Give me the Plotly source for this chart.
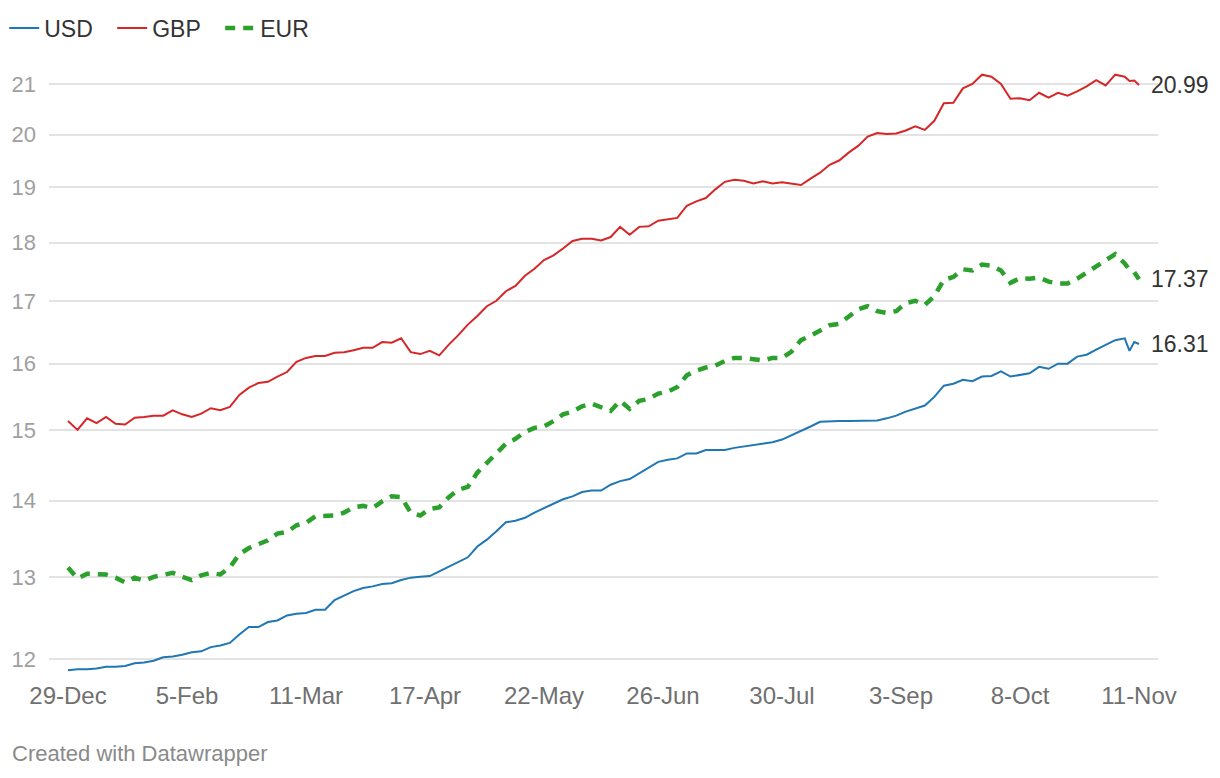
import math
import plotly.graph_objects as go

# x positions: trading-day index (labels every 25 days)
day_idx = list(range(0, 223, 2)) + [223, 224, 225]

tick_idx = [0, 25, 50, 75, 100, 125, 150, 175, 200, 225]
tick_labels = ["29-Dec", "5-Feb", "11-Mar", "17-Apr", "22-May",
               "26-Jun", "30-Jul", "3-Sep", "8-Oct", "11-Nov"]

usd = [11.87, 11.88, 11.88, 11.89, 11.91,
       11.91, 11.92, 11.95, 11.96, 11.98,
       12.02, 12.03, 12.05, 12.08, 12.09,
       12.14, 12.16, 12.19, 12.29, 12.38,
       12.38, 12.44, 12.46, 12.52, 12.54,
       12.55, 12.59, 12.59, 12.71, 12.77,
       12.82, 12.86, 12.88, 12.91, 12.92,
       12.96, 12.99, 13.00, 13.01, 13.07,
       13.13, 13.19, 13.25, 13.39, 13.48,
       13.59, 13.71, 13.73, 13.77, 13.84,
       13.90, 13.95, 14.02, 14.06, 14.12,
       14.14, 14.14, 14.22, 14.27, 14.30,
       14.38, 14.46, 14.54, 14.57, 14.59,
       14.66, 14.66, 14.71, 14.71, 14.71,
       14.74, 14.76, 14.78, 14.80, 14.82,
       14.86, 14.92, 14.98, 15.05, 15.12,
       15.13, 15.13, 15.13, 15.13, 15.13,
       15.14, 15.17, 15.21, 15.27, 15.32,
       15.36, 15.49, 15.66, 15.69, 15.75,
       15.73, 15.80, 15.81, 15.88, 15.80,
       15.83, 15.85, 15.95, 15.92, 16.00,
       16.00, 16.11, 16.14, 16.22, 16.29,
       16.37, 16.40,
       16.20, 16.34, 16.31]

gbp = [15.13, 15.00, 15.17, 15.10, 15.19,
       15.09, 15.08, 15.18, 15.19, 15.21,
       15.21, 15.29, 15.23, 15.19, 15.24,
       15.32, 15.29, 15.34, 15.52, 15.63,
       15.70, 15.72, 15.80, 15.87, 16.03,
       16.09, 16.12, 16.12, 16.17, 16.18,
       16.21, 16.25, 16.25, 16.34, 16.33,
       16.40, 16.18, 16.15, 16.20, 16.13,
       16.30, 16.45, 16.62, 16.76, 16.92,
       17.01, 17.17, 17.26, 17.43, 17.55,
       17.70, 17.78, 17.90, 18.03, 18.07,
       18.07, 18.04, 18.10, 18.28, 18.14,
       18.28, 18.29, 18.39, 18.41, 18.44,
       18.66, 18.74, 18.80, 18.96, 19.10,
       19.14, 19.12, 19.07, 19.11, 19.07,
       19.09, 19.06, 19.04, 19.16, 19.27,
       19.42, 19.50, 19.65, 19.78, 19.96,
       20.03, 20.01, 20.02, 20.08, 20.16,
       20.09, 20.27, 20.62, 20.63, 20.92,
       21.01, 21.20, 21.16, 21.01, 20.71,
       20.72, 20.68, 20.83, 20.73, 20.83,
       20.77, 20.86, 20.96, 21.09, 20.98,
       21.20, 21.16,
       21.07, 21.08, 20.99]

eur = [13.12, 12.98, 13.04, 13.04, 13.03,
       12.99, 12.93, 12.99, 12.95, 13.00,
       13.02, 13.05, 13.00, 12.96, 13.02,
       13.05, 13.03, 13.12, 13.29, 13.37,
       13.42, 13.47, 13.56, 13.58, 13.67,
       13.70, 13.79, 13.79, 13.80, 13.84,
       13.91, 13.93, 13.90, 13.99, 14.06,
       14.05, 13.84, 13.80, 13.89, 13.91,
       14.05, 14.15, 14.19, 14.39, 14.53,
       14.66, 14.80, 14.87, 14.97, 15.03,
       15.05, 15.13, 15.23, 15.27, 15.35,
       15.39, 15.33, 15.28, 15.43, 15.31,
       15.43, 15.46, 15.54, 15.57, 15.64,
       15.82, 15.89, 15.94, 15.97, 16.04,
       16.09, 16.09, 16.07, 16.05, 16.09,
       16.09, 16.19, 16.37, 16.44, 16.52,
       16.61, 16.63, 16.76, 16.87, 16.92,
       16.84, 16.81, 16.84, 16.97, 17.01,
       16.94, 17.09, 17.36, 17.41, 17.54,
       17.52, 17.62, 17.60, 17.52, 17.31,
       17.39, 17.38, 17.40, 17.33, 17.30,
       17.30, 17.38, 17.48, 17.58, 17.68,
       17.80, 17.64,
       17.53, 17.49, 17.37]

y_ticks = [12, 13, 14, 15, 16, 17, 18, 19, 20, 21]

series_names = ["USD", "GBP", "EUR"]
series_values = [usd, gbp, eur]
colors = ["#1f77b4", "#d62728", "#2ca02c"]
widths = [2, 2, 4.5]
dashes = ["solid", "solid", "10px,8px"]

FONT = "Liberation Sans, Arial, Helvetica, sans-serif"

fig = go.Figure()
for name, vals, c, w, d in zip(series_names, series_values, colors, widths, dashes):
    fig.add_trace(go.Scatter(x=day_idx, y=vals, mode="lines", name=name,
                             line=dict(color=c, width=w, dash=d)))
    # log axis: annotation positions are given in log10 units
    fig.add_annotation(x=day_idx[-1], y=math.log10(vals[-1]), xref="x", yref="y",
                       text=f"{vals[-1]:.2f}", showarrow=False,
                       xanchor="left", yanchor="middle", xshift=10,
                       font=dict(family=FONT, size=23, color="#333333"))

fig.add_annotation(x=-0.0352, y=-0.1285, xref="paper", yref="paper",
                   text="Created with Datawrapper", showarrow=False,
                   xanchor="left", yanchor="middle",
                   font=dict(family=FONT, size=22, color="#8a8a8a"))

fig.update_layout(
    width=1220, height=778,
    paper_bgcolor="white", plot_bgcolor="white",
    margin=dict(l=49, r=62, t=60, b=103, pad=0),
    font=dict(family=FONT, size=22, color="#333333"),
    showlegend=True,
    legend=dict(orientation="h", x=-0.0404, y=0.964, xanchor="left", yanchor="middle",
                yref="container", font=dict(size=23, color="#333333"),
                bgcolor="rgba(0,0,0,0)", itemwidth=30, tracegroupgap=0,
                entrywidth=63, entrywidthmode="pixels"),
    xaxis=dict(range=[-3.99, 228.99], showgrid=False, zeroline=False, showline=False,
               tickmode="array", tickvals=tick_idx, ticktext=tick_labels,
               ticks="", ticklabelstandoff=4,
               tickfont=dict(family=FONT, size=24, color="#707070")),
    yaxis=dict(type="log", range=[1.07243, 1.33192], showgrid=True,
               gridcolor="#e3e3e3", gridwidth=2, zeroline=False, showline=False,
               tickmode="array", tickvals=y_ticks, ticktext=[str(v) for v in y_ticks],
               ticks="", ticklabelstandoff=12,
               tickfont=dict(family=FONT, size=22, color="#a0a0a0")),
)

fig.write_html("out.html")
